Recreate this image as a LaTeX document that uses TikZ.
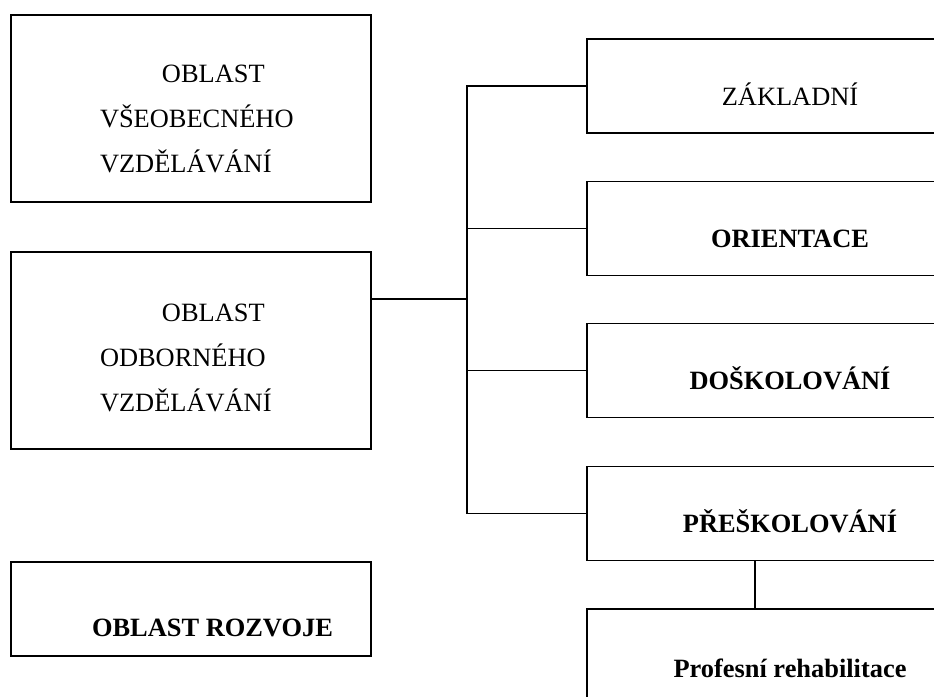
\documentclass[tikz,border=0pt]{standalone}
\usepackage{fontspec}
\setmainfont{Liberation Serif}
\hyphenpenalty=10000

\begin{document}
\begin{tikzpicture}
[
x=0.5pt, y=-0.5pt,
line width=0.85pt,
every node/.style={draw, rectangle, inner sep=0pt, font=\fontsize{13.2}{22.5}\selectfont},
leftbox/.style={minimum width=180pt, align=left},
rightbox/.style={minimum width=203pt, minimum height=47pt, text height=19pt, text depth=0pt}
]
\useasboundingbox (0,0) rectangle (934,697);
\clip (0,0) rectangle (934,697);

% left column
\node (vseob) [leftbox, text width=91pt, minimum height=93.5pt] at (191,108.5) {\rule{0pt}{18.7pt}\hspace*{31pt}OBLAST\\VŠEOBECNÉHO\\VZDĚLÁVÁNÍ};
\node (odbor) [leftbox, text width=91pt, minimum height=98.5pt] at (191,350.5) {\rule{0pt}{15.7pt}\hspace*{31pt}OBLAST\\ODBORNÉHO\\VZDĚLÁVÁNÍ};
\node (rozvoj) [leftbox, minimum height=47pt, text height=27pt, text depth=0pt] at (191,609) {\hspace*{21.5pt}\bfseries OBLAST ROZVOJE};

% right column
\node (zakl) [rightbox] at (790,86) {ZÁKLADNÍ};
\node (orient) [rightbox] at (790,228.5) {\bfseries ORIENTACE};
\node (dosk) [rightbox] at (790,370.5) {\bfseries DOŠKOLOVÁNÍ};
\node (presk) [rightbox] at (790,513.5) {\bfseries PŘEŠKOLOVÁNÍ};
\node (rehab) [minimum width=203pt, minimum height=59pt] at (790,668) {\bfseries Profesní rehabilitace};

% connectors
\coordinate (hub) at (467,299);
\draw (odbor.east |- hub) -- (hub);
\draw (zakl.west) -| (hub) |- (presk.west);
\draw (orient.west) -- (orient.west -| hub);
\draw (dosk.west) -- (dosk.west -| hub);
\draw ([xshift=-17.5pt]presk.south) -- ([xshift=-17.5pt]rehab.north);
\end{tikzpicture}
\end{document}
